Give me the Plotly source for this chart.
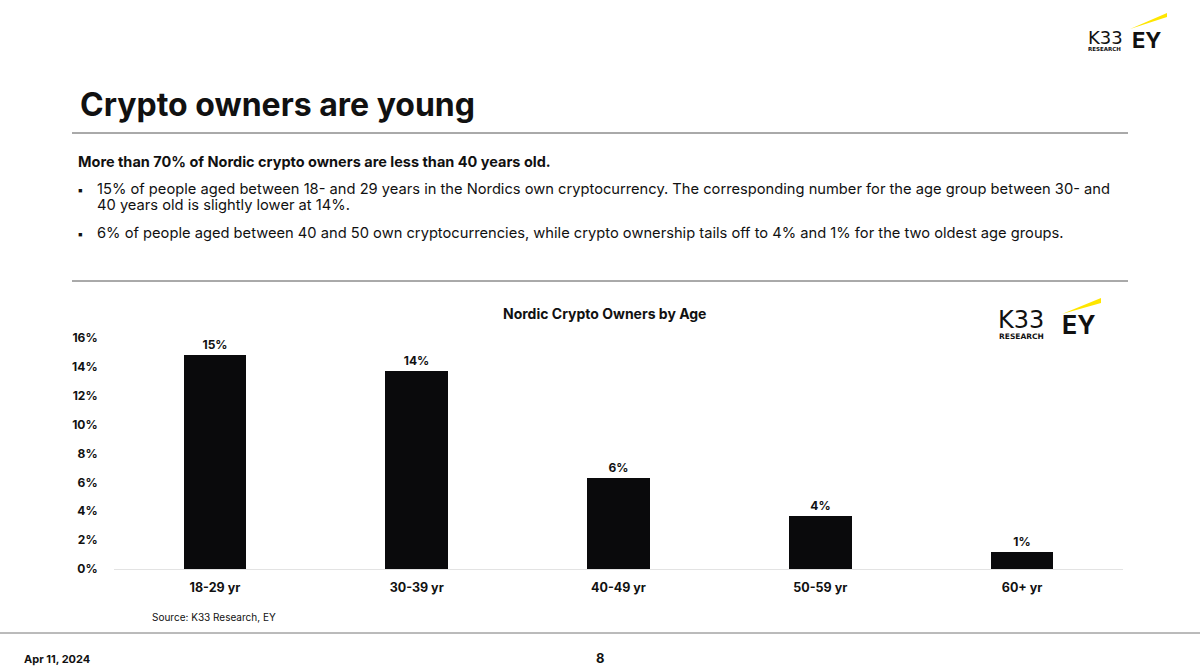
import plotly.graph_objects as go

W, H = 1200, 672

categories = ["18-29 yr", "30-39 yr", "40-49 yr", "50-59 yr", "60+ yr"]
owners_share = [0.148, 0.137, 0.063, 0.037, 0.012]
y_ticks = [0, 0.02, 0.04, 0.06, 0.08, 0.10, 0.12, 0.14, 0.16]

FONT = "Inter"
LOGO_FONT = "DejaVu Sans"
DARK = "#111111"

def px(x):
    return x / W

def py(y):
    return 1 - y / H

fig = go.Figure()
fig.add_trace(go.Bar(
    x=categories,
    y=owners_share,
    marker=dict(color="#0a0a0c", line=dict(width=0)),
    width=0.31,
    texttemplate="%{y:.0%}",
    textposition="outside",
    textfont=dict(family=FONT, size=12, color=DARK, weight="bold"),
    cliponaxis=False,
    hoverinfo="skip",
))

fig.update_layout(
    width=W, height=H,
    margin=dict(l=0, r=0, t=0, b=0, pad=0, autoexpand=False),
    paper_bgcolor="white",
    plot_bgcolor="white",
    showlegend=False,
    bargap=0,
    font=dict(family=FONT, color=DARK),
    xaxis=dict(
        domain=[px(114), px(1123)],
        showgrid=False,
        showline=True, linecolor="#e3e3e3", linewidth=1,
        ticks="outside", ticklen=7, tickcolor="rgba(0,0,0,0)",
        tickfont=dict(family=FONT, size=12.5, color=DARK, weight="bold"),
        anchor="y",
        automargin=False,
        fixedrange=True,
    ),
    yaxis=dict(
        domain=[py(569), py(338)],
        range=[0, 0.16],
        tickvals=y_ticks,
        tickformat=".0%",
        showgrid=False,
        zeroline=False,
        showline=False,
        ticks="outside", ticklen=13, tickcolor="rgba(0,0,0,0)",
        tickfont=dict(family=FONT, size=12, color=DARK, weight="bold"),
        automargin=False,
        fixedrange=True,
    ),
)

annotations = []

def txt(x, y, s, size, bold=False, anchor="left", color=DARK, family=FONT):
    annotations.append(dict(
        x=px(x), y=py(y), xref="paper", yref="paper",
        text=s, showarrow=False, xanchor=anchor, yanchor="middle",
        font=dict(family=family, size=size, color=color, weight="bold" if bold else "normal"),
    ))

txt(78, 104, "Crypto owners are young", 32, bold=True)
txt(76, 161, "More than 70% of Nordic crypto owners are less than 40 years old.", 14.5, bold=True)
txt(75, 189, "▪", 12)
txt(95, 189, "15% of people aged between 18- and 29 years in the Nordics own cryptocurrency. The corresponding number for the age group between 30- and", 14.7)
txt(95, 205, "40 years old is slightly lower at 14%.", 14.7)
txt(75, 233, "▪", 12)
txt(95, 233, "6% of people aged between 40 and 50 own cryptocurrencies, while crypto ownership tails off to 4% and 1% for the two oldest age groups.", 14.7)
txt(604, 313, "Nordic Crypto Owners by Age", 14, bold=True, anchor="center")
txt(150, 617, "Source: K33 Research, EY", 10)
txt(22, 659, "Apr 11, 2024", 11, bold=True)
txt(600, 658, "8", 13, bold=True, anchor="center")

# logos (text-based)
txt(1105, 37, "K33", 18, anchor="center", family=LOGO_FONT)
txt(1104, 49, "RESEARCH", 5.5, bold=True, anchor="center", family=LOGO_FONT)
txt(1146, 40, "EY", 22, bold=True, anchor="center")
txt(1021, 320, "K33", 24, anchor="center", family=LOGO_FONT)
txt(1021, 336, "RESEARCH", 7.5, bold=True, anchor="center", family=LOGO_FONT)
txt(1078, 325, "EY", 25, bold=True, anchor="center")

fig.update_layout(annotations=annotations)

shapes = [
    dict(type="line", xref="paper", yref="paper", x0=px(72), x1=px(1128), y0=py(133), y1=py(133),
         line=dict(color="#555555", width=1)),
    dict(type="line", xref="paper", yref="paper", x0=px(72), x1=px(1128), y0=py(281), y1=py(281),
         line=dict(color="#555555", width=1)),
    dict(type="line", xref="paper", yref="paper", x0=0, x1=1, y0=py(633), y1=py(633),
         line=dict(color="#777777", width=1)),
    # EY yellow beams
    dict(type="path", xref="paper", yref="paper",
         path=f"M {px(1130)},{py(29)} L {px(1167)},{py(13)} L {px(1167)},{py(17)} Z",
         fillcolor="#ffe600", line=dict(width=0)),
    dict(type="path", xref="paper", yref="paper",
         path=f"M {px(1062)},{py(314)} L {px(1101)},{py(298)} L {px(1101)},{py(303)} Z",
         fillcolor="#ffe600", line=dict(width=0)),
]
fig.update_layout(shapes=shapes)

fig.write_html("out.html")
